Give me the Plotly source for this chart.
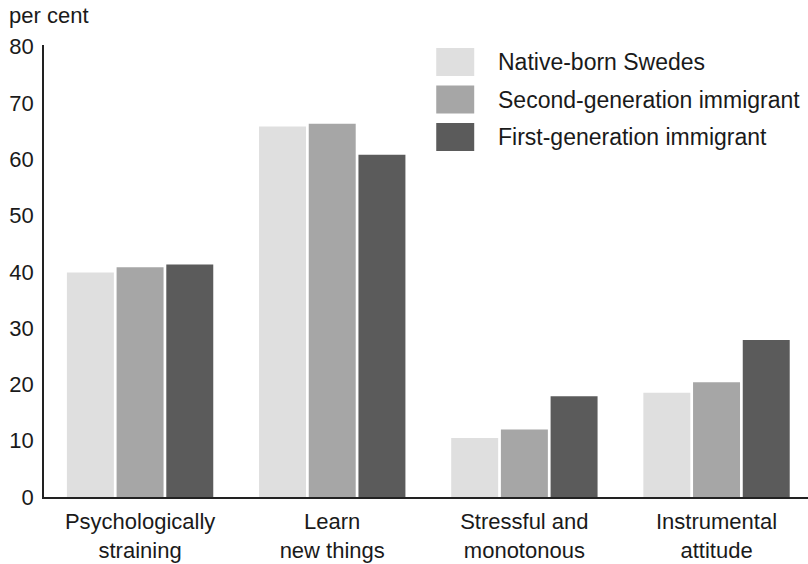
import plotly.graph_objects as go

# Share of employees (per cent) reporting each work condition
categories = ["Psychologically<br>straining", "Learn<br>new things",
              "Stressful and<br>monotonous", "Instrumental<br>attitude"]
series_names = ["Native-born Swedes", "Second-generation immigrant",
                "First-generation immigrant"]
native_born = [39.9, 65.8, 10.5, 18.5]
second_gen = [40.8, 66.3, 12.0, 20.4]
first_gen = [41.3, 60.8, 17.9, 27.9]
y_ticks = [0, 10, 20, 30, 40, 50, 60, 70, 80]

colors = ["#dfdfdf", "#a6a6a6", "#5b5b5b"]
font_family = "Liberation Sans, Arial, Helvetica, sans-serif"
text_color = "#1a1a1a"
FS = 22

W, H = 808, 564
M_L, M_R, M_T, M_B = 43.5, 0, 45, 67
plot_w = W - M_L - M_R
plot_h = H - M_T - M_B


def px_to_paper(x, y):
    return (x - M_L) / plot_w, (H - M_B - y) / plot_h


fig = go.Figure()
for name, vals, col in zip(series_names, [native_born, second_gen, first_gen], colors):
    fig.add_trace(go.Bar(
        x=list(range(len(categories))), y=vals, name=name,
        marker=dict(color=col, line=dict(width=0)),
        showlegend=False,
    ))

# Legend drawn as large swatches with labels
row_centers = [62, 99.5, 137]
for name, col, cy in zip(series_names, colors, row_centers):
    x0, y0 = px_to_paper(436, cy + 14)
    x1, y1 = px_to_paper(474, cy - 14)
    fig.add_shape(type="rect", xref="paper", yref="paper",
                  x0=x0, x1=x1, y0=y0, y1=y1,
                  fillcolor=col, line=dict(width=0))
    tx, ty = px_to_paper(496, cy)
    fig.add_annotation(xref="paper", yref="paper", x=tx, y=ty,
                       text=name, showarrow=False, xanchor="left", yanchor="middle",
                       font=dict(size=FS + 1, color=text_color, family=font_family))

ax, ay = px_to_paper(6, 15)
fig.add_annotation(xref="paper", yref="paper", x=ax, y=ay, text="per cent",
                   showarrow=False, xanchor="left", yanchor="middle",
                   font=dict(size=FS, color=text_color, family=font_family))

fig.update_layout(
    width=W, height=H,
    margin=dict(l=M_L, r=M_R, t=M_T, b=M_B, pad=0),
    paper_bgcolor="white", plot_bgcolor="white",
    barmode="group", bargap=0.224, bargroupgap=0.055,
    font=dict(family=font_family, size=FS, color=text_color),
    xaxis=dict(
        range=[-0.5, 3.476],
        tickmode="array", tickvals=list(range(len(categories))), ticktext=categories,
        showgrid=False, zeroline=False, ticks="",
        showline=True, linecolor="#222222", linewidth=2,
        tickfont=dict(size=FS, color=text_color),
        ticklabelstandoff=4,
    ),
    yaxis=dict(
        range=[0, 80.3], tickmode="array", tickvals=y_ticks,
        showgrid=False, zeroline=False, ticks="",
        showline=True, linecolor="#222222", linewidth=1.5,
        tickfont=dict(size=FS, color=text_color),
        ticklabelstandoff=4,
    ),
)

fig.write_html("out.html")
